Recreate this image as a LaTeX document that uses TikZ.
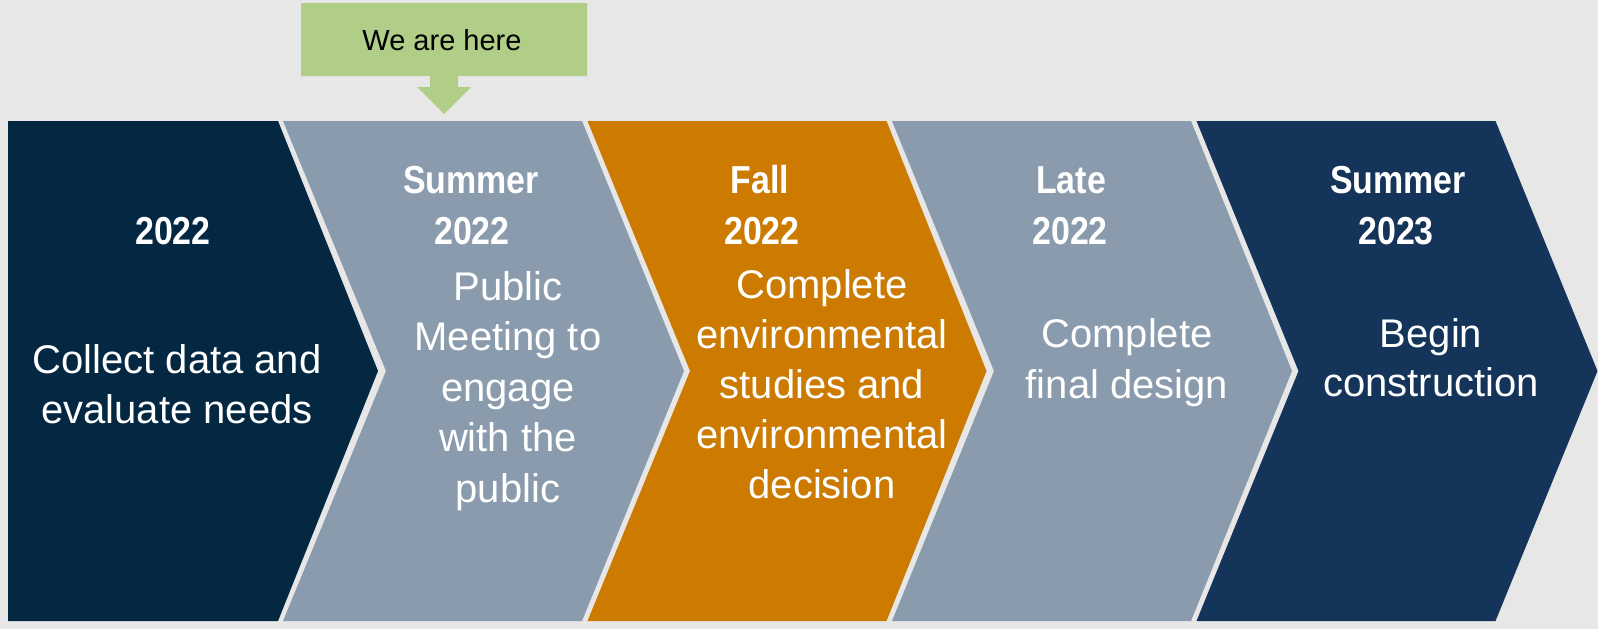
\documentclass[tikz,border=0pt]{standalone}
\usepackage{fontspec}
\setmainfont{Liberation Sans}
\newfontfamily\hdfont[FakeStretch=0.87,UprightFont=* Bold]{Liberation Sans}
\definecolor{bg}{HTML}{E7E7E7}
\definecolor{cdark}{HTML}{042842}
\definecolor{cgray}{HTML}{8A9BAD}
\definecolor{corange}{HTML}{CC7A00}
\definecolor{cnavy}{HTML}{143459}
\definecolor{cgreen}{HTML}{B1CE88}
\begin{document}
\begin{tikzpicture}[x=1pt,y=-1pt,
  body/.style={text=white,font=\fontsize{40}{48}\selectfont,anchor=base,inner sep=0pt},
  head/.style={text=white,font=\hdfont\fontsize{39}{46}\selectfont,anchor=base,inner sep=0pt},
  callout/.style={text=black,font=\fontsize{29}{34}\selectfont,anchor=base,inner sep=0pt}]
\fill[bg] (0,0) rectangle (1598,629);
\useasboundingbox (0,0) rectangle (1598,629);
% chevrons
\fill[cdark] (8,121) -- (278,121) -- (378,371) -- (278,621) -- (8,621) -- cycle;
\fill[cgray] (283,121) -- (582,121) -- (684,371) -- (582,621) -- (283,621) -- (386,371) -- cycle;
\fill[corange] (587.5,121) -- (886.5,121) -- (986.5,371) -- (886.5,621) -- (587.5,621) -- (690,371) -- cycle;
\fill[cgray] (892,121) -- (1191,121) -- (1292,371) -- (1191,621) -- (892,621) -- (994,371) -- cycle;
\fill[cnavy] (1196.5,121) -- (1495.5,121) -- (1597.5,371) -- (1495.5,621) -- (1196.5,621) -- (1298.5,371) -- cycle;
% callout
\fill[cgreen] (301,3) -- (587,3) -- (587,76) -- (458,76) -- (458,87) -- (471,87) -- (444,114) -- (417,87) -- (430,87) -- (430,76) -- (301,76) -- cycle;
\node[callout] (here) at (442,50) {We are here};
% chevron 1
\node[head] (h1b) at (173,244) {2022};
\node[body] (b1a) at (177,373) {Collect data and};
\node[body] (b1b) at (177,423) {evaluate needs};
% chevron 2
\node[head] (h2a) at (471,193) {Summer};
\node[head] (h2b) at (472,244) {2022};
\node[body] (b2a) at (508,300) {Public};
\node[body] (b2b) at (508,350.5) {Meeting to};
\node[body] (b2c) at (508,401) {engage};
\node[body] (b2d) at (508,451.5) {with the};
\node[body] (b2e) at (508,502) {public};
% chevron 3
\node[head] (h3a) at (760,193) {Fall};
\node[head] (h3b) at (762,244) {2022};
\node[body] (b3a) at (822,298) {Complete};
\node[body] (b3b) at (822,348) {environmental};
\node[body] (b3c) at (822,398) {studies and};
\node[body] (b3d) at (822,448) {environmental};
\node[body] (b3e) at (822,498) {decision};
% chevron 4
\node[head] (h4a) at (1071,193) {Late};
\node[head] (h4b) at (1070,244) {2022};
\node[body] (b4a) at (1127,347) {Complete};
\node[body] (b4b) at (1127,398) {final design};
% chevron 5
\node[head] (h5a) at (1398,193) {Summer};
\node[head] (h5b) at (1396,244) {2023};
\node[body] (b5a) at (1431,347) {Begin};
\node[body] (b5b) at (1431,396) {construction};
\end{tikzpicture}
\end{document}
